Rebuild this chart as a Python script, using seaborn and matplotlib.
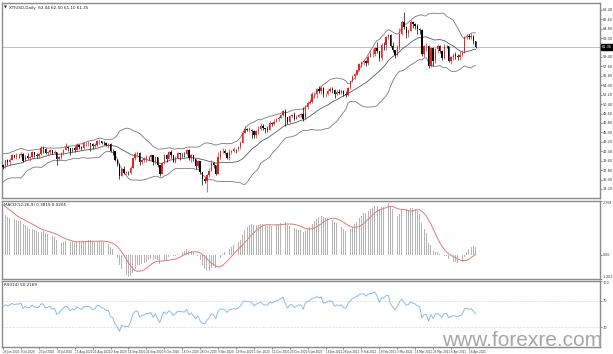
import numpy as np
import pandas as pd
import matplotlib
matplotlib.use("Agg")
import matplotlib.pyplot as plt
import matplotlib.transforms as mtransforms
from matplotlib.ticker import MultipleLocator, FixedLocator, FuncFormatter
import seaborn as sns

sns.set_theme(style="white")
plt.rcParams['font.family'] = ['DejaVu Sans']

symbol = "XTIUSD,Daily"
watermark = "www.forexre.com"

# closes before the first visible bar (indicator history, 1 May - 25 Jun 2020)
warmup_close = [19.78, 20.39, 24.56, 23.99, 23.55, 24.74, 24.14, 25.78, 25.29, 27.56,
                29.43, 31.82, 32.50, 33.49, 33.92, 33.25, 33.60, 34.35, 32.81, 33.71,
                35.49, 35.44, 36.81, 37.29, 37.41, 39.55, 38.19, 38.94, 39.60, 36.34,
                36.26, 37.12, 38.38, 37.96, 38.84, 39.75, 40.73, 40.37, 38.01, 38.72]

# visible daily bars, 26 Jun 2020 - 21 Apr 2021
close = [38.49, 39.70, 39.27,
         39.82, 40.65, 40.30, 40.63, 40.62, 40.90, 39.62, 40.55, 40.10, 40.29, 41.20, 40.75,
         40.59, 40.81, 41.96, 41.90, 41.07, 41.29, 41.60, 41.04, 41.27, 39.92, 40.27,
         41.01, 41.70, 42.19, 41.95, 41.22, 41.94, 41.61, 42.67, 42.24, 42.01, 42.89, 42.89,
         42.93, 42.82, 42.34, 42.62, 43.35, 43.39, 43.04, 42.97, 42.61,
         42.76, 41.51, 41.37, 39.77, 39.00, 36.76, 38.05, 37.30, 37.33, 37.26, 38.28, 40.16,
         40.97, 41.11, 39.31, 39.80, 39.93, 40.31, 40.25, 40.60, 39.29, 40.22,
         38.72, 37.05, 39.22, 40.67, 39.95, 41.19, 40.60, 39.43, 40.20, 41.04, 40.96, 40.88,
         40.83, 41.70, 40.03, 40.64, 39.85, 38.56, 39.57, 37.39, 36.17, 35.79,
         36.81, 37.66, 39.15, 38.79, 37.14, 40.29, 41.36, 41.45, 41.12, 40.13, 41.34, 41.43,
         41.82, 41.74, 42.15, 43.06, 44.91, 45.71, 45.50, 45.53, 45.34,
         44.55, 45.28, 45.64, 46.26, 45.76, 45.60, 45.52, 46.78, 46.57, 46.99, 47.62, 47.82,
         48.36, 49.10, 47.97, 47.02, 48.12, 48.23, 47.62, 48.00, 48.40, 48.52,
         47.62, 49.93, 50.63, 50.83, 52.24, 52.25, 53.21, 52.91, 53.57, 52.36, 52.42, 52.98,
         53.31, 53.13, 52.27, 52.77, 52.61, 52.85, 52.34, 52.20,
         53.55, 54.76, 55.69, 56.23, 56.85, 57.97, 58.36, 58.68, 58.24, 59.47, 60.00, 60.05,
         61.14, 60.52, 59.24, 61.70, 61.67, 63.22, 63.53, 61.50,
         60.64, 59.75, 61.28, 63.83, 66.09, 65.05, 64.01, 64.44, 66.02, 65.61, 65.39, 64.80,
         64.60, 60.00, 61.42, 61.55, 57.76, 61.18, 58.56, 60.97, 61.56, 60.55, 59.16,
         61.45, 61.40, 58.65, 59.33, 59.77, 59.60, 59.32, 59.70, 60.18, 63.15, 63.46, 63.13,
         63.38, 62.44, 61.35]

high = [39.00, 39.80, 39.90,
        40.10, 40.80, 40.70, 41.00, 40.90, 41.20, 41.00, 40.70, 41.10, 40.50, 41.50, 41.20,
        41.00, 41.00, 42.40, 42.50, 42.10, 41.50, 41.80, 41.70, 41.70, 41.30, 40.50,
        41.20, 41.80, 43.00, 42.40, 42.10, 42.10, 42.50, 42.90, 42.70, 42.40, 43.10, 43.20,
        43.40, 43.00, 42.90, 42.90, 43.60, 43.80, 43.40, 43.30, 43.20,
        43.00, 42.90, 41.80, 41.50, 39.90, 39.10, 38.30, 38.50, 37.70, 37.70, 38.60, 40.40,
        41.30, 41.40, 41.20, 40.00, 40.30, 40.60, 40.50, 40.90, 40.70, 40.30,
        40.40, 38.80, 39.40, 40.90, 40.90, 41.40, 41.60, 40.60, 40.50, 41.20, 41.10, 41.00,
        41.30, 41.80, 41.90, 40.80, 40.70, 39.90, 39.70, 39.60, 37.40, 36.40,
        37.00, 38.20, 39.80, 39.30, 38.80, 41.30, 41.70, 42.00, 41.80, 41.30, 41.90, 41.60,
        42.20, 41.90, 42.40, 43.30, 45.20, 46.30, 45.90, 46.00, 45.70,
        45.40, 45.50, 46.30, 46.70, 46.60, 45.90, 46.20, 47.20, 47.00, 47.60, 47.80, 48.10,
        48.60, 49.30, 49.40, 48.00, 48.40, 48.60, 48.90, 48.30, 48.60, 48.70,
        49.80, 50.20, 50.90, 51.30, 52.70, 52.70, 53.40, 53.90, 53.90, 53.70, 52.60, 53.30,
        53.60, 53.70, 53.20, 53.00, 53.20, 53.20, 53.00, 52.90,
        53.70, 54.90, 56.00, 56.40, 57.00, 58.20, 58.60, 58.90, 58.80, 59.80, 60.70, 60.90,
        61.30, 62.20, 60.60, 62.00, 62.30, 63.40, 63.80, 63.70,
        62.30, 60.80, 61.70, 64.90, 66.40, 67.98, 65.30, 64.70, 66.40, 66.30, 65.90, 65.60,
        65.00, 64.80, 61.70, 62.00, 61.60, 61.30, 61.30, 61.20, 61.80, 61.70, 60.70,
        61.80, 61.60, 61.40, 59.60, 60.10, 60.30, 59.90, 60.50, 60.80, 63.40, 63.80, 63.70,
        64.00, 63.50, 62.50]

low = [37.98, 38.20, 38.80,
       38.80, 39.70, 40.10, 39.90, 40.20, 40.30, 39.30, 39.50, 39.90, 39.50, 40.10, 40.30,
       40.20, 40.10, 40.70, 41.10, 40.80, 40.70, 40.90, 40.80, 40.80, 38.70, 39.70,
       40.00, 40.60, 41.70, 41.50, 40.70, 41.20, 41.30, 41.40, 41.80, 41.60, 41.90, 42.50,
       42.40, 41.50, 41.80, 42.10, 42.50, 42.80, 42.70, 42.60, 42.50,
       42.10, 41.30, 40.70, 39.50, 38.60, 36.10, 36.70, 37.00, 36.80, 36.80, 37.00, 38.20,
       39.70, 40.40, 38.80, 38.90, 39.40, 39.30, 39.80, 39.80, 38.80, 38.90,
       38.40, 36.60, 37.00, 39.00, 39.40, 39.90, 40.20, 39.30, 39.20, 40.00, 39.70, 40.30,
       40.40, 40.60, 39.80, 39.30, 39.50, 38.00, 38.30, 37.10, 34.90, 35.30,
       33.64, 36.50, 37.60, 38.30, 36.90, 37.10, 40.00, 41.10, 40.80, 39.90, 39.80, 40.80,
       41.30, 41.00, 41.50, 41.90, 43.00, 44.80, 45.20, 45.00, 43.90,
       43.90, 43.90, 44.70, 45.50, 45.40, 44.90, 45.10, 45.40, 46.20, 46.40, 46.90, 47.20,
       47.70, 48.20, 46.20, 46.60, 46.70, 47.90, 47.30, 47.60, 47.90, 47.90,
       47.20, 47.40, 49.50, 50.40, 50.60, 51.50, 51.60, 52.60, 52.40, 51.80, 51.80, 52.20,
       52.80, 52.60, 51.50, 52.10, 52.30, 52.30, 51.90, 51.80,
       51.90, 53.30, 54.60, 55.10, 55.90, 56.80, 57.50, 57.90, 57.60, 57.80, 59.30, 59.40,
       59.60, 60.10, 58.60, 58.90, 60.70, 60.80, 62.90, 61.30,
       60.40, 59.20, 59.60, 60.70, 63.60, 64.80, 63.10, 63.20, 64.30, 64.90, 64.70, 63.80,
       63.70, 59.60, 59.30, 60.50, 57.30, 57.50, 57.60, 58.30, 60.20, 60.20, 58.90,
       59.00, 61.10, 58.50, 58.10, 58.90, 59.10, 58.90, 58.90, 59.50, 60.10, 62.80, 62.80,
       62.90, 61.80, 61.10]

holidays = ["2020-12-25", "2021-01-01"]
dates = pd.bdate_range("2020-06-26", "2021-04-21")
dates = dates[~dates.isin(pd.to_datetime(holidays))]
assert len(dates) == len(close) == len(high) == len(low)

n = len(close)
w = len(warmup_close)
all_close = pd.Series(warmup_close + close, dtype=float)
opens = all_close.shift(1).values[w:]
closes = np.array(close)
highs = np.array(high)
lows = np.array(low)
x = np.arange(n)

# indicators
mid = all_close.rolling(20).mean()
sd = all_close.rolling(20).std(ddof=0)
upper = (mid + 2 * sd).values[w:]
lower = (mid - 2 * sd).values[w:]
mid = mid.values[w:]
ema12 = all_close.ewm(span=12, adjust=False).mean()
ema26 = all_close.ewm(span=26, adjust=False).mean()
macd_all = ema12 - ema26
signal_all = macd_all.rolling(9).mean()
macd = macd_all.values[w:]
signal = signal_all.values[w:]
delta = all_close.diff()
gain = delta.clip(lower=0).ewm(alpha=1 / 14, adjust=False).mean()
loss = (-delta.clip(upper=0)).ewm(alpha=1 / 14, adjust=False).mean()
rsi = (100 - 100 / (1 + gain / loss)).values[w:]

df = pd.DataFrame({"x": x, "upper": upper, "mid": mid, "lower": lower,
                   "macd": macd, "signal": signal, "rsi": rsi})

W, H = 613, 354
fig = plt.figure(figsize=(W / 100, H / 100), dpi=100)
fig.patch.set_facecolor("white")
L = 2 / W
AW = 598 / W
def frac(top, bottom):
    return [L, 1 - bottom / H, AW, (bottom - top) / H]

ax = fig.add_axes(frac(3, 198))
axm = fig.add_axes(frac(201, 279))
axr = fig.add_axes(frac(281, 347))

spacing = 2.24
xlim = (-0.45, (600 - 3) / spacing)
grey = "#8a8a8a"
for a in (ax, axm, axr):
    a.set_facecolor("white")
    a.set_xlim(*xlim)
    for s in a.spines.values():
        s.set_color(grey)
        s.set_linewidth(1.0)
    a.yaxis.tick_right()
    a.tick_params(axis="y", which="both", labelsize=2.5, length=1.5, width=0.4,
                  pad=0.6, colors="#333333", direction="out", right=True, left=False)
    a.tick_params(axis="x", bottom=False, labelbottom=False)

# ---- candles
up = closes >= opens
colors = np.where(up, "#e8231f", "#000000")
body_lo = np.minimum(opens, closes)
body_h = np.maximum(np.abs(closes - opens), 0.06)
ax.vlines(x, lows, highs, colors=colors, linewidth=0.5, zorder=3)
ax.bar(x, body_h, bottom=body_lo, width=0.62, color=colors, linewidth=0, zorder=4)

sns.lineplot(data=df, x="x", y="upper", ax=ax, color="#7a7a7a", linewidth=0.6, zorder=2)
sns.lineplot(data=df, x="x", y="lower", ax=ax, color="#7a7a7a", linewidth=0.6, zorder=2)
sns.lineplot(data=df, x="x", y="mid", ax=ax, color="#5a5a5a", linewidth=0.6, zorder=2)

last = closes[-1]
ax.set_ylim(32.48, 69.70)
ax.yaxis.set_major_locator(MultipleLocator(1.8))
ax.yaxis.set_major_formatter(FuncFormatter(
    lambda v, p: "" if abs(v - last) < 0.9 else f"{v:.2f}"))
ax.axhline(last, color="#b4b4b4", linewidth=0.6, zorder=1)
tr = mtransforms.blended_transform_factory(ax.transAxes, ax.transData)
ax.text(1.003, last, f"{last:.2f}", transform=tr, fontsize=2.5, color="white",
        va="center", ha="left",
        bbox=dict(boxstyle="square,pad=0.25", fc="black", ec="black"), zorder=10,
        clip_on=False)
ax.text(0.004, 0.985, "\u25bc", transform=ax.transAxes, fontsize=2.8, va="top", ha="left")
ax.text(0.012, 0.985,
        f"{symbol}  {opens[-1]:.2f} {highs[-1]:.2f} {lows[-1]:.2f} {closes[-1]:.2f}",
        transform=ax.transAxes, fontsize=3.0, va="top", ha="left", color="#222222")
ax.set_xlabel(""); ax.set_ylabel("")

# ---- MACD
axm.bar(x, macd, width=0.4, color="#b4b4b4", linewidth=0, zorder=2)
sns.lineplot(data=df, x="x", y="signal", ax=axm, color="#e07a7a", linewidth=0.7, zorder=3)
mmax = max(np.nanmax(macd), np.nanmax(signal))
mmin = min(np.nanmin(macd), np.nanmin(signal))
pad = 0.03 * (mmax - mmin)
axm.set_ylim(mmin - pad, mmax + pad)
axm.yaxis.set_major_locator(FixedLocator([mmin - pad, 0.0, mmax + pad]))
axm.yaxis.set_major_formatter(FuncFormatter(lambda v, p: "0.00" if abs(v) < 1e-9 else f"{v:.3f}"))
axm.tick_params(axis="y", labelsize=2.3)
axm.text(0.004, 0.97, f"MACD(12,26,9) {macd[-1]:.4f} {signal[-1]:.4f}",
         transform=axm.transAxes, fontsize=3.0, va="top", ha="left", color="#222222")
axm.set_xlabel(""); axm.set_ylabel("")

# ---- RSI
axr.axhline(70, color="#d6d6d6", linewidth=0.5, linestyle=(0, (3, 2)), zorder=1)
axr.axhline(30, color="#d6d6d6", linewidth=0.5, linestyle=(0, (3, 2)), zorder=1)
sns.lineplot(data=df, x="x", y="rsi", ax=axr, color="#8fbbe6", linewidth=0.7, zorder=3)
axr.set_ylim(0, 100)
axr.yaxis.set_major_locator(FixedLocator([100, 70, 30]))
axr.yaxis.set_major_formatter(FuncFormatter(lambda v, p: f"{v:.0f}"))
axr.text(0.004, 0.97, f"RSI(14) {rsi[-1]:.4f}", transform=axr.transAxes,
         fontsize=3.0, va="top", ha="left", color="#222222")
axr.set_xlabel(""); axr.set_ylabel("")

tick_pos = x[::8]
tick_labels = [f"{d.day} {d.strftime('%b %Y')}" for d in dates[::8]]
axr.set_xticks(tick_pos)
axr.set_xticklabels(tick_labels, fontsize=2.0, ha="left", color="#333333")
axr.tick_params(axis="x", bottom=True, labelbottom=True, length=1.5, width=0.4,
                pad=0.8, colors="#333333")

fig.canvas.draw()
mlabels = axm.get_yticklabels()
if mlabels:
    mlabels[0].set_verticalalignment("bottom")
    mlabels[-1].set_verticalalignment("top")
rlabels = axr.get_yticklabels()
if rlabels:
    rlabels[0].set_verticalalignment("top")

fig.text(602 / W, 1 - 346 / H, watermark, fontsize=15, color="#a6a6a6",
         ha="right", va="baseline", family=["Liberation Sans", "DejaVu Sans"])

fig.savefig("out.png", dpi=100, facecolor="white")
